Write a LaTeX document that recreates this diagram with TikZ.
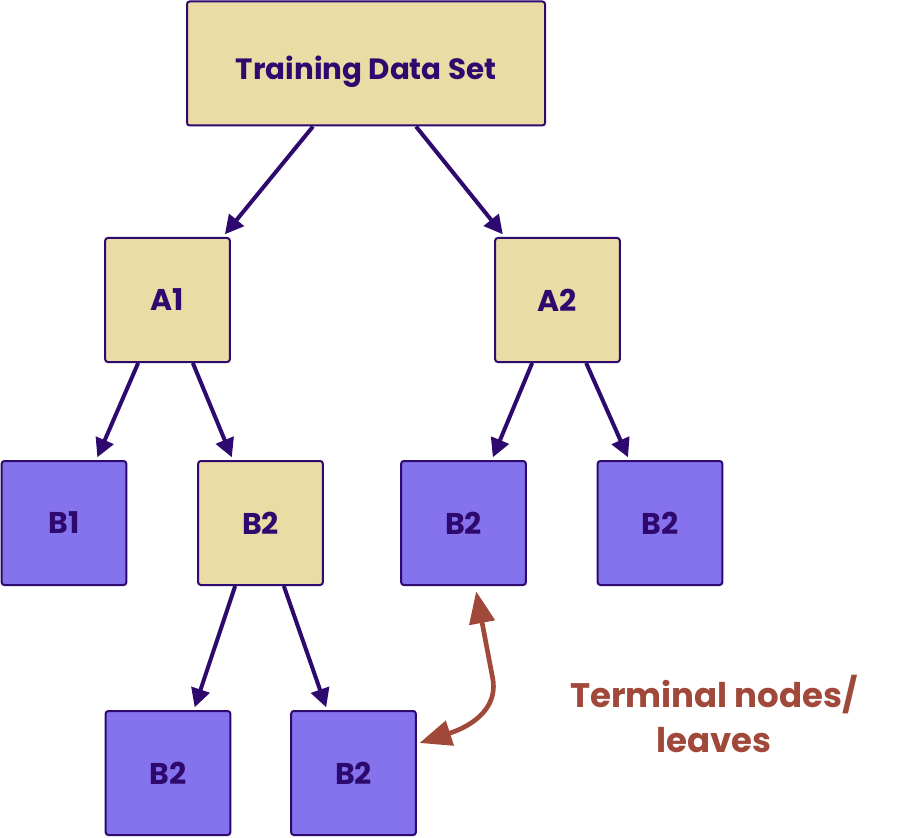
\documentclass[tikz,border=0pt]{standalone}
\usepackage{fontspec}
\setmainfont{Poppins}
\usetikzlibrary{arrows.meta,calc}

\definecolor{sand}{HTML}{EBDCA5}
\definecolor{violet}{HTML}{8573EE}
\definecolor{ink}{HTML}{2E0A6E}
\definecolor{rust}{HTML}{A0493A}

\tikzset{
    box/.style={draw=ink, line width=1.5pt, rounded corners=2pt, text=ink,
        font=\bfseries\fontsize{22.5}{26}\selectfont,
        minimum width=93.5pt, minimum height=93pt, inner sep=0pt},
    inner/.style={box, fill=sand},
    leaf/.style={box, fill=violet},
    edge/.style={draw=ink, line width=3pt, -{Triangle[length=14pt,width=14pt]}},
    note/.style={draw=rust, line width=3.5pt,
        {Triangle[length=24pt,width=19pt]}-{Triangle[length=24pt,width=19pt]}}
}

\begin{document}
\begin{tikzpicture}[x=0.75pt,y=0.75pt]
    \useasboundingbox (0,0) rectangle (907,-838);

    % tree nodes
    \node[inner, minimum width=268.5pt, font=\bfseries\fontsize{22}{26}\selectfont,
        text height=23.5pt, text depth=0pt]
        (root) at (366,-63.5) {Training Data Set};
    \node[inner] (a1) at (167.5,-300) {A1};
    \node[inner] (a2) at (557.5,-300) {A2};
    \node[leaf]  (b1) at (64,-523) {B1};
    \node[inner] (b2) at (260.5,-523) {B2};
    \node[leaf]  (b3) at (463.5,-523) {B2};
    \node[leaf]  (b4) at (660,-523) {B2};
    \node[leaf]  (c1) at (168,-773) {B2};
    \node[leaf]  (c2) at (353.5,-773) {B2};

    % branches
    \draw[edge] ([xshift=-39.75pt]root.south) -- ([xshift=43pt,yshift=2pt]a1.north);
    \draw[edge] ([xshift=37.5pt]root.south) -- ([xshift=-41pt,yshift=2pt]a2.north);
    \draw[edge] ([xshift=-22pt]a1.south) -- ([xshift=25pt,yshift=2pt]b1.north);
    \draw[edge] ([xshift=19pt]a1.south) -- ([xshift=-21.5pt,yshift=2pt]b2.north);
    \draw[edge] ([xshift=-19pt]a2.south) -- ([xshift=22pt,yshift=2pt]b3.north);
    \draw[edge] ([xshift=21.5pt]a2.south) -- ([xshift=-24pt,yshift=2pt]b4.north);
    \draw[edge] ([xshift=-19pt]b2.south) -- ([xshift=20pt,yshift=2pt]c1.north);
    \draw[edge] ([xshift=17.5pt]b2.south) -- ([xshift=-20.5pt,yshift=2pt]c2.north);

    % leaf marker
    \coordinate (bend) at (493,-680);
    \draw[note] ([xshift=9.5pt,yshift=-4pt]b3.south) -- (bend)
        to[out=-82,in=18] ([xshift=2pt,yshift=22.5pt]c2.east);
    \node[text=rust, font=\bfseries\fontsize{25.5}{34}\selectfont, align=center]
        (lbl) at (714,-714) {Terminal nodes/\\leaves};

\end{tikzpicture}
\end{document}
